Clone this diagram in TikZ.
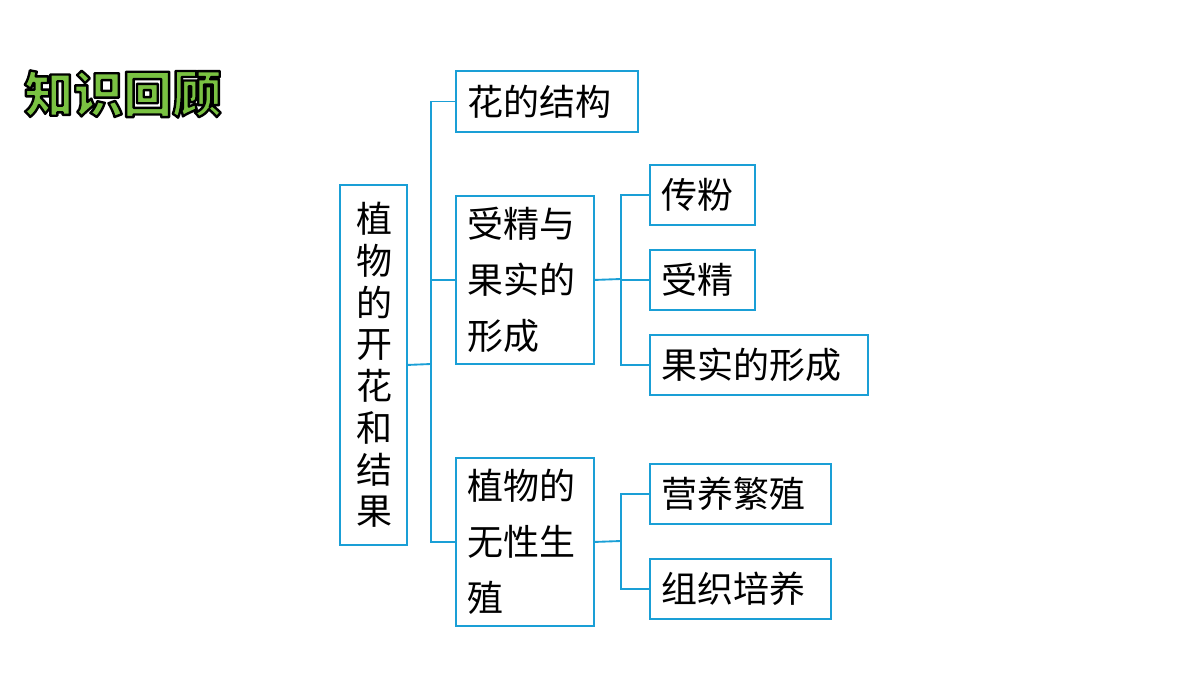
\documentclass[tikz,border=0pt]{standalone}
\usepackage{fontspec}
\newfontfamily\cjk{Noto Sans CJK SC}
\definecolor{lc}{HTML}{1A9FD6}
\definecolor{tg}{RGB}{122,194,66}
\begin{document}
\begin{tikzpicture}[x=0.75pt,y=-0.75pt,
  box/.style={draw=lc, line width=1.4pt, inner sep=0pt},
  tx/.style={anchor=west, inner sep=0pt, align=left, font=\cjk\fontsize{27}{42}\selectfont},
  ln/.style={draw=lc, line width=1.4pt}]
\useasboundingbox (0,0) rectangle (1200,675);
\def\mk#1#2#3#4#5#6#7{\node[box,minimum width=#3*0.75pt-#1*0.75pt,minimum height=#4*0.75pt-#2*0.75pt,anchor=north west] (#5) at (#1,#2) {};
 \node[tx,#7] (#5t) at ([xshift=9pt]#5.west) {#6};}
\mk{339}{184}{406}{544}{m}{植\\物\\的\\开\\花\\和\\结\\果}{font=\cjk\fontsize{27}{31.3}\selectfont,xshift=4pt}
\mk{455}{70}{637}{131}{a}{花的结构}{}
\mk{455}{195}{593}{363}{b}{受精与\\果实的\\形成}{}
\mk{455}{457}{593}{625}{c}{植物的\\无性生\\殖}{}
\mk{649}{164}{754}{224}{b1}{传粉}{}
\mk{649}{249}{754}{309}{b2}{受精}{}
\mk{649}{334}{867}{394}{b3}{果实的形成}{}
\mk{649}{463}{830}{523}{c1}{营养繁殖}{}
\mk{649}{558}{830}{618}{c2}{组织培养}{}
\coordinate (t1) at (431,364);
\draw[ln] (m.east) -- (t1);
\draw[ln] (t1) |- (a.west);
\draw[ln] (t1) |- (b.west);
\draw[ln] (t1) |- (c.west);
\coordinate (t2) at (621,279);
\draw[ln] (b.east) -- (t2);
\draw[ln] (t2) |- (b1.west);
\draw[ln] (t2) |- (b2.west);
\draw[ln] (t2) |- (b3.west);
\coordinate (t3) at (621,541);
\draw[ln] (c.east) -- (t3);
\draw[ln] (t3) |- (c1.west);
\draw[ln] (t3) |- (c2.west);
\node[anchor=west,inner sep=0pt,text=tg,font=\cjk\bfseries\fontsize{37}{37}\selectfont] (title) at (24,94)
  {\special{pdf:literal direct 2 Tr 1.8 w 1 j 0 0 0 RG}知识回顾\special{pdf:literal direct 0 Tr}};
\end{tikzpicture}
\end{document}
